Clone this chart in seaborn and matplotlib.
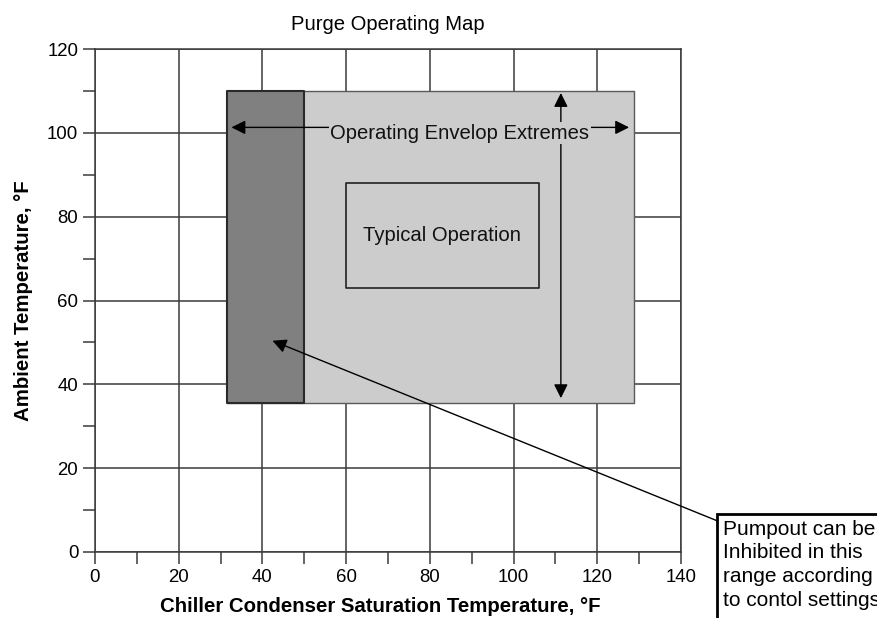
import matplotlib
matplotlib.use("Agg")
import matplotlib.pyplot as plt
import seaborn as sns
from matplotlib.ticker import MultipleLocator
from matplotlib.patches import Rectangle

# ---- data ----
x_limits = [0, 140]
y_limits = [0, 120]
x_ticks = [0, 20, 40, 60, 80, 100, 120, 140]
y_ticks = [0, 20, 40, 60, 80, 100, 120]

envelope_x = [31.5, 128.7]       # operating envelope extremes (light grey)
envelope_y = [35.5, 110.0]
inhibit_x = [31.5, 50.0]         # pumpout inhibit range (dark grey)
inhibit_y = [35.5, 110.0]
typical_x = [60.0, 106.0]        # typical operation box
typical_y = [63.0, 88.0]

h_arrow_x = [32.6, 127.6]        # horizontal double arrow
h_arrow_y = 101.3
v_arrow_x = 111.3                # vertical double arrow
v_arrow_y = [109.5, 36.7]
pointer_from = (148.5, 7.5)      # callout pointer
pointer_to = (42.4, 50.4)

title = "Purge Operating Map"
xlabel = "Chiller Condenser Saturation Temperature, °F"
ylabel = "Ambient Temperature, °F"
envelope_label = "Operating Envelop Extremes"
typical_label = "Typical Operation"
callout = "Pumpout can be\nInhibited in this\nrange according\nto contol settings"

# ---- style ----
sns.set_theme(style="white")
plt.rcParams["font.family"] = ["Liberation Sans", "DejaVu Sans"]

W, H = 878, 618
fig = plt.figure(figsize=(W / 100, H / 100), dpi=100)
ax = fig.add_axes([95 / W, 66 / H, 586 / W, 503 / H])

gc = "#3a3a3a"
ax.set_xlim(*x_limits)
ax.set_ylim(*y_limits)
ax.set_xticks(x_ticks)
ax.set_yticks(y_ticks)
ax.xaxis.set_minor_locator(MultipleLocator(10))
ax.yaxis.set_minor_locator(MultipleLocator(10))
ax.grid(True, which="major", color=gc, lw=1.1)
ax.set_axisbelow(True)
for s in ax.spines.values():
    s.set_color(gc)
    s.set_linewidth(1.1)
ax.tick_params(which="both", direction="out", length=8.5, width=1.1,
               color=gc, labelsize=13.4, pad=3.5, labelcolor="black",
               bottom=True, left=True)

# envelope regions
ax.fill_between(envelope_x, envelope_y[0], envelope_y[1], facecolor="#cccccc",
                edgecolor="#5a5a5a", lw=1.0, zorder=2)
ax.fill_between(inhibit_x, inhibit_y[0], inhibit_y[1], facecolor="#808080",
                edgecolor="#2a2a2a", lw=1.5, zorder=3)
ax.fill_between(typical_x, typical_y[0], typical_y[1], facecolor="none",
                edgecolor="#222222", lw=1.2, zorder=3)

ax.text(sum(typical_x) / 2, sum(typical_y) / 2, typical_label, ha="center",
        va="center", fontsize=14.6, color="#111111", zorder=6)

arrow_style = "<|-|>,head_length=0.6,head_width=0.3"
ax.annotate("", xy=(h_arrow_x[1], h_arrow_y), xytext=(h_arrow_x[0], h_arrow_y),
            arrowprops=dict(arrowstyle=arrow_style, color="black", lw=1.0,
                            mutation_scale=14, shrinkA=0, shrinkB=0), zorder=4)
ax.annotate("", xy=(v_arrow_x, v_arrow_y[1]), xytext=(v_arrow_x, v_arrow_y[0]),
            arrowprops=dict(arrowstyle=arrow_style, color="black", lw=1.0,
                            mutation_scale=14, shrinkA=0, shrinkB=0), zorder=4)
ax.text(87.2, 98.6, envelope_label, ha="center", va="baseline", fontsize=14.6,
        color="#111111", zorder=5,
        bbox=dict(boxstyle="square,pad=0.08", facecolor="#cccccc", edgecolor="none"))

ax.annotate("", xy=pointer_to, xytext=pointer_from, annotation_clip=False,
            arrowprops=dict(arrowstyle="-|>,head_length=0.6,head_width=0.3",
                            color="black", lw=1.0, mutation_scale=14,
                            shrinkA=0, shrinkB=0), zorder=6)

# callout box running off the right and bottom edges of the figure
fig.patches.append(Rectangle((717 / W, -0.05), 0.3, (1 - 514 / H) + 0.05,
                             transform=fig.transFigure, facecolor="white",
                             edgecolor="black", lw=2.0, zorder=5))
fig.text(723 / W, 1 - 520 / H, callout, ha="left", va="top", fontsize=15,
         linespacing=1.3, color="black", zorder=6)

ax.set_title(title, fontsize=14.6, pad=14, color="black")
ax.set_xlabel(xlabel, fontsize=14.7, fontweight="bold", color="black")
ax.set_ylabel(ylabel, fontsize=14.7, fontweight="bold", color="black")
ax.xaxis.set_label_coords(0.486, -0.0895)
ax.yaxis.set_label_coords(-0.106, 0.5)

fig.savefig("out.png", dpi=100)
